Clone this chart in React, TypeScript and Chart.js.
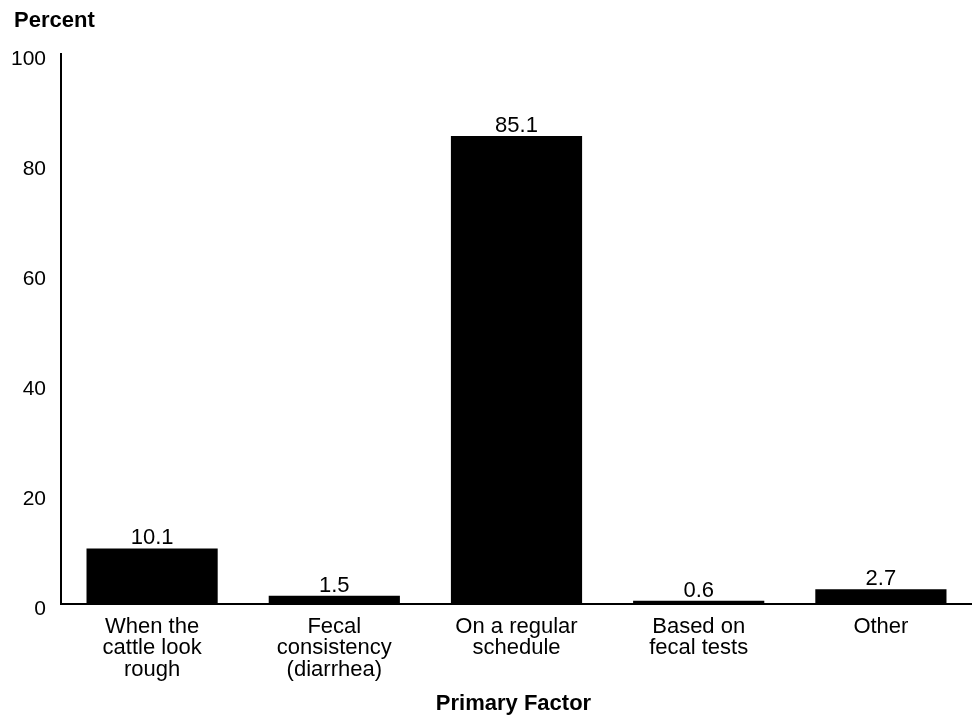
import React, { useEffect, useRef } from "react";
import { Chart, registerables } from "chart.js";

Chart.register(...registerables);

const categories: string[][] = [
  ["When the", "cattle look", "rough"],
  ["Fecal", "consistency", "(diarrhea)"],
  ["On a regular", "schedule"],
  ["Based on", "fecal tests"],
  ["Other"],
];
const values: number[] = [10.1, 1.5, 85.1, 0.6, 2.7];
const yTitle = "Percent";
const xTitle = "Primary Factor";
const FONT = "'Liberation Sans', Arial, sans-serif";

const textPlugin = {
  id: "texts",
  afterDatasetsDraw(chart: any) {
    const ctx = chart.ctx;
    const meta = chart.getDatasetMeta(0);
    ctx.save();
    ctx.fillStyle = "#000";
    ctx.font = `22px ${FONT}`;
    ctx.textAlign = "center";
    ctx.textBaseline = "alphabetic";
    meta.data.forEach((bar: any, i: number) => {
      ctx.fillText(values[i].toFixed(1), bar.x, bar.y - 4);
    });
    ctx.font = `bold 22px ${FONT}`;
    ctx.textAlign = "left";
    ctx.fillText(yTitle, 14, 27);
    ctx.textAlign = "center";
    const area = chart.chartArea;
    ctx.fillText(xTitle, (area.left + area.right) / 2 - 3, 710);
    ctx.restore();
  },
};

export default function App() {
  const ref = useRef<HTMLCanvasElement | null>(null);
  useEffect(() => {
    document.body.style.margin = "0";
    const chart = new Chart(ref.current as HTMLCanvasElement, {
      type: "bar",
      data: {
        labels: categories,
        datasets: [
          {
            data: values,
            backgroundColor: "#000",
            borderWidth: 0,
            categoryPercentage: 0.72,
            barPercentage: 1,
          },
        ],
      },
      options: {
        animation: false,
        responsive: false,
        maintainAspectRatio: false,
        layout: { padding: { top: 54, right: 0, left: 0, bottom: 0 } },
        plugins: {
          legend: { display: false },
          tooltip: { enabled: false },
          title: { display: false },
        },
        scales: {
          x: {
            grid: { display: false, drawTicks: false },
            border: { display: true, color: "#000", width: 2 },
            ticks: {
              color: "#000",
              font: { family: FONT, size: 22, lineHeight: 0.98 },
              padding: 12,
              maxRotation: 0,
              autoSkip: false,
            },
            afterFit: (s: any) => {
              s.height = 113;
            },
          },
          y: {
            min: 0,
            max: 100,
            grid: { display: false, drawTicks: false },
            border: { display: true, color: "#000", width: 2 },
            ticks: {
              stepSize: 20,
              color: "#000",
              font: { family: FONT, size: 21 },
              padding: 15,
              labelOffset: 5,
            },
            afterFit: (s: any) => {
              s.width = 61;
            },
          },
        },
      },
      plugins: [textPlugin],
    });
    return () => chart.destroy();
  }, []);
  return <canvas ref={ref} width={972} height={717} style={{ display: "block" }} />;
}
